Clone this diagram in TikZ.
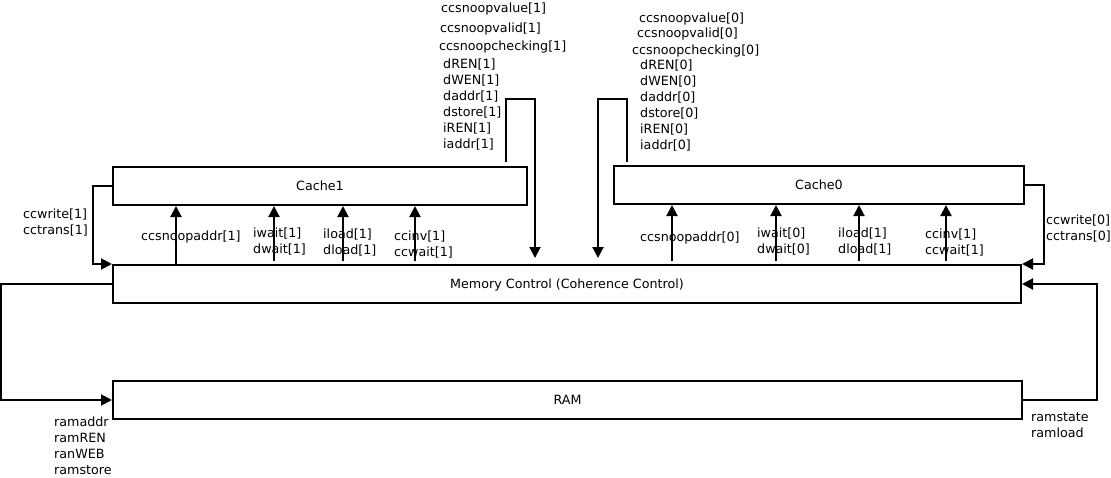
\documentclass[tikz,border=0pt]{standalone}
\usepackage{fontspec}
\setmainfont{DejaVu Sans}
\usetikzlibrary{arrows.meta,calc}
\begin{document}
\begin{tikzpicture}[x=1pt,y=-1pt,
  box/.style={draw,line width=2pt,minimum height=38pt,inner sep=0pt,text depth=0pt,font=\fontsize{12.7}{15}\selectfont},
  wire/.style={line width=2pt},
  arr/.style={line width=2pt,-{Triangle[length=11pt,width=11pt]}},
  lbl/.style={inner sep=0pt,anchor=west,align=left,yshift=-1.5pt,font=\fontsize{12.7}{16}\selectfont}]
\useasboundingbox (0,0) rectangle (1111,477);
% boxes
\node[box,minimum width=414pt] (c1) at (320,186) {Cache1};
\node[box,minimum width=410pt] (c0) at (819,185) {Cache0};
\node[box,minimum width=908pt] (mem) at (567,284) {Memory Control (Coherence Control)};
\node[box,minimum width=909pt] (ram) at (567.5,400) {RAM};
% helper coordinates
\coordinate (l1) at (93,0);
\coordinate (r0) at (1044,0);
\coordinate (ml) at (1,0);
\coordinate (rr) at (1097,0);
\coordinate (t1a) at (506,99);
\coordinate (t1b) at (535,99);
\coordinate (t0a) at (627,99);
\coordinate (t0b) at (598,99);
\coordinate (e1) at (535,258);
\coordinate (e0) at (598,258);
\foreach \n/\x in {a/176,b/274,c/343,d/415,e/672,f/776,g/859,h/946}{\coordinate (v\n) at (\x,0);}
% cache write/trans loops
\draw[arr] (c1.west) -| (l1 |- mem.north west) -- (mem.north west);
\draw[arr] (c0.east) -| (r0 |- mem.north east) -- (mem.north east);
% mem <-> ram
\draw[arr] (mem.west) -| (ml |- ram.west) -- (ram.west);
\draw[arr] (ram.east) -| (rr |- mem.east) -- (mem.east);
% top loops
\draw[arr] (t1a |- c1.north) ++(0,-4) -- (t1a) -- (t1b) -- (e1);
\draw[arr] (t0a |- c0.north) ++(0,-3) -- (t0a) -- (t0b) -- (e0);
% up arrows mem -> caches
\draw[arr] (va |- mem.north) -- (va |- c1.south);
\draw[arr] ($(vb |- mem.north)+(0,-3)$) -- (vb |- c1.south);
\draw[arr] ($(vc |- mem.north)+(0,-3)$) -- (vc |- c1.south);
\draw[arr] ($(vd |- mem.north)+(0,-3)$) -- (vd |- c1.south);
\draw[arr] ($(ve |- mem.north)+(0,-3)$) -- (ve |- c0.south);
\draw[arr] ($(vf |- mem.north)+(0,-3)$) -- (vf |- c0.south);
\draw[arr] ($(vg |- mem.north)+(0,-3)$) -- (vg |- c0.south);
\draw[arr] ($(vh |- mem.north)+(0,-3)$) -- (vh |- c0.south);
% labels
\node[lbl] (lcw1) at (23,221) {ccwrite[1]\\cctrans[1]};
\node[lbl] (lcw0) at (1046,227) {ccwrite[0]\\cctrans[0]};
\node[lbl] (ls1) at (141,235) {ccsnoopaddr[1]};
\node[lbl] (lw1) at (253,240) {iwait[1]\\dwait[1]};
\node[lbl] (ll1) at (323,241) {iload[1]\\dload[1]};
\node[lbl] (li1) at (394,243) {ccinv[1]\\ccwait[1]};
\node[lbl] (ls0) at (640,236) {ccsnoopaddr[0]};
\node[lbl] (lw0) at (757,240) {iwait[0]\\dwait[0]};
\node[lbl] (ll0) at (838,240) {iload[1]\\dload[1]};
\node[lbl] (li0) at (925,241) {ccinv[1]\\ccwait[1]};
\node[lbl] (lram) at (54,444) {ramaddr\\ramREN\\ranWEB\\ramstore};
\node[lbl] (lrs) at (1031,424) {ramstate\\ramload};
% top left
\node[lbl] (tv1) at (441,7) {ccsnoopvalue[1]};
\node[lbl] (tva1) at (440,27) {ccsnoopvalid[1]};
\node[lbl] (tc1) at (439,45) {ccsnoopchecking[1]};
\node[lbl] (td1) at (443,103) {dREN[1]\\dWEN[1]\\daddr[1]\\dstore[1]\\iREN[1]\\iaddr[1]};
% top right
\node[lbl] (tv0) at (639,17) {ccsnoopvalue[0]};
\node[lbl] (tva0) at (637,32) {ccsnoopvalid[0]};
\node[lbl] (tc0) at (632,49) {ccsnoopchecking[0]};
\node[lbl] (td0) at (640,104) {dREN[0]\\dWEN[0]\\daddr[0]\\dstore[0]\\iREN[0]\\iaddr[0]};
\end{tikzpicture}
\end{document}
